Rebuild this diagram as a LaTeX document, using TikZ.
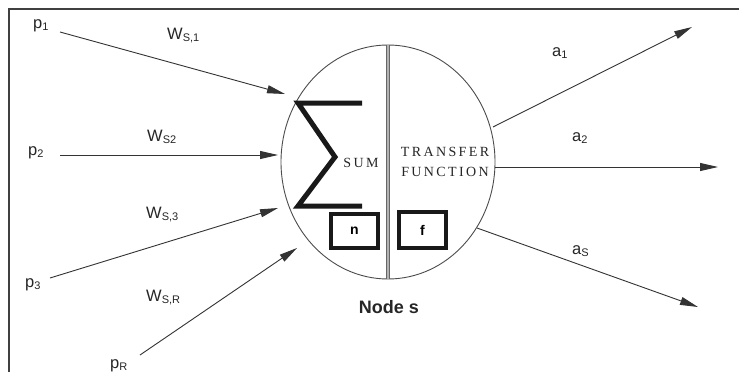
\documentclass[tikz,border=0pt]{standalone}
\usepackage{fontspec}
\setmainfont{Liberation Sans}
\newfontfamily\cellfont{Liberation Serif}[LetterSpace=17]
\usetikzlibrary{arrows.meta,shapes.geometric}
\newcommand\sbx[1]{\raisebox{-2pt}{\fontsize{11}{11}\selectfont #1}}
\begin{document}
\begin{tikzpicture}[x=1pt,y=-1pt,
  frame/.style={draw=black!75,line width=2pt},
  wire/.style={draw=black!80,line width=0.9pt,-{Triangle[length=18pt,width=8pt]}},
  lbl/.style={anchor=base west,inner sep=0pt,text=black!85,font=\fontsize{16.5}{16.5}\selectfont},
  cellline/.style={draw=black!70,line width=0.9pt},
  sigma/.style={draw=black!90,line width=5pt,miter limit=20},
  divider/.style={draw=black!60,line width=0.7pt,double=black!30,double distance=2pt},
  smallbox/.style={draw=black!90,line width=4pt,fill=white,inner sep=0pt,font=\bfseries\fontsize{14}{14}\selectfont},
  celltext/.style={inner sep=0pt,align=center,text=black!85,font=\cellfont\fontsize{14}{20}\selectfont}
]
\useasboundingbox (0,0) rectangle (739,372);
\fill[white] (0,0) rectangle (739,372);
% frame
\draw[frame] (9,372) -- (9,9) -- (739,9);
% cell
\node[ellipse,cellline,minimum width=214pt,minimum height=234pt,inner sep=0pt] (cell) at (388,162) {};
\draw[divider] (cell.north) -- (cell.south);
% sigma
\draw[sigma] (362,103) -- (298,103) -- (335,157) -- (298,206) -- (362,206);
\node[celltext] (sum) at (361,163) {SUM};
\node[celltext] (tf) at (445,162) {TRANSFER\\FUNCTION};
\node[smallbox,minimum width=47pt,minimum height=34pt] (nbox) at (354.5,231) {n};
\node[smallbox,minimum width=47pt,minimum height=36pt] (fbox) at (422.5,230) {f};
\node[inner sep=0pt,text=black!85,font=\bfseries\fontsize{18}{18}\selectfont] (cap) at (389,307) {Node s};
% input coordinates
\coordinate (p1s) at (60,32);  \coordinate (in1) at (285,94);
\coordinate (p2s) at (60,155); \coordinate (in2) at (278,155);
\coordinate (p3s) at (50,278); \coordinate (in3) at (278,208);
\coordinate (pRs) at (140,355); \coordinate (inR) at (297,248);
\draw[wire] (p1s) -- (in1);
\draw[wire] (p2s) -- (in2);
\draw[wire] (p3s) -- (in3);
\draw[wire] (pRs) -- (inR);
% output coordinates
\coordinate (o1s) at (493,127); \coordinate (o1e) at (692,27);
\coordinate (o2s) at (495,167); \coordinate (o2e) at (718,167);
\coordinate (o3s) at (477,228); \coordinate (o3e) at (698,307);
\draw[wire] (o1s) -- (o1e);
\draw[wire] (o2s) -- (o2e);
\draw[wire] (o3s) -- (o3e);
% labels
\node[lbl] (lp1) at (33,28) {p\sbx{1}};
\node[lbl] (lp2) at (28,155) {p\sbx{2}};
\node[lbl] (lp3) at (25,287) {p\sbx{3}};
\node[lbl] (lpR) at (110,368) {p\sbx{R}};
\node[lbl] (lw1) at (167,39) {W\sbx{S,1}};
\node[lbl] (lw2) at (147,141) {W\sbx{S2}};
\node[lbl] (lw3) at (146,218) {W\sbx{S,3}};
\node[lbl] (lwR) at (146,301) {W\sbx{S,R}};
\node[lbl] (la1) at (552,56) {a\sbx{1}};
\node[lbl] (la2) at (572,141) {a\sbx{2}};
\node[lbl] (laS) at (572,254) {a\sbx{S}};
\end{tikzpicture}
\end{document}
